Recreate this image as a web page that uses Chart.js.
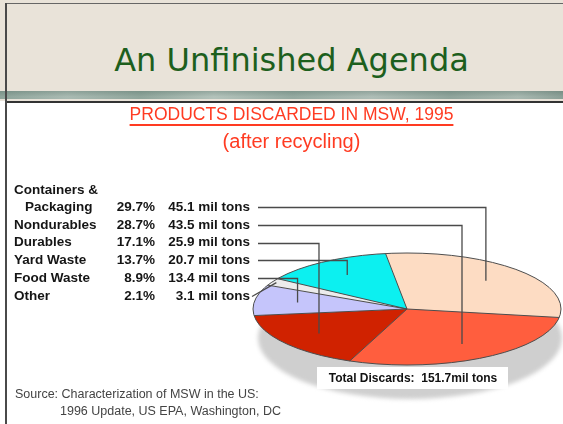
<!DOCTYPE html>
<html><head><meta charset="utf-8">
<script src="https://cdn.jsdelivr.net/npm/chart.js@4/dist/chart.umd.min.js"></script>
<style>
html,body{margin:0;padding:0;}
body{width:563px;height:424px;position:relative;overflow:hidden;background:#fff;font-family:"Liberation Sans",Arial,sans-serif;}
#head{position:absolute;left:0;top:0;width:563px;height:101px;background:#e9e3d9;}
#band{position:absolute;left:0;top:91px;width:563px;height:8px;
 background:linear-gradient(to bottom, rgba(60,90,80,0.25), rgba(255,255,255,0) 70%),
 linear-gradient(to right,#8ea49a,#a9bab2 12%,#8fa59b 25%,#b3c2ba 38%,#94a9a0 52%,#aebdb6 66%,#8fa49b 80%,#a8b8b0 92%,#8a9f96);}
#topline{position:absolute;left:5px;top:3px;width:558px;height:1px;background:#666;}
#leftline{position:absolute;left:5px;top:3px;width:2px;height:421px;background:#4a4a4a;}
#sepline{position:absolute;left:5px;top:101px;width:558px;height:2px;background:#333;}
#slideTitle{position:absolute;left:20px;width:543px;top:40px;text-align:center;font-family:"DejaVu Sans",Verdana,sans-serif;font-size:32px;color:#1d5f1d;line-height:40px;}
#chartBox{position:absolute;left:0;top:0;width:563px;height:424px;}
#source{position:absolute;left:15px;top:386px;font-family:"Liberation Sans",Arial,sans-serif;font-size:12.5px;color:#444;line-height:17px;white-space:nowrap;}
#source .l2{padding-left:45px;}
</style></head>
<body>
<div id="head"></div>
<div id="band"></div>
<div id="topline"></div>
<div id="sepline"></div>
<div id="leftline"></div>
<div id="slideTitle">An Unfinished Agenda</div>
<div id="chartBox"><canvas id="c" width="563" height="424"></canvas></div>
<div id="source"><div>Source: Characterization of MSW in the US:</div><div class="l2">1996 Update, US EPA, Washington, DC</div></div>
<script>
// ---- data (pie order, clockwise from top) ----
const categories = [["Containers &","Packaging"], "Nondurables", "Durables", "Food Waste", "Other", "Yard Waste"];
const percents   = [29.7, 28.7, 17.1, 8.9, 2.1, 13.7];
const milTons    = [45.1, 43.5, 25.9, 13.4, 3.1, 20.7];
const listOrder  = [0, 1, 2, 5, 3, 4];   // order of rows in the label table
const sliceColors = ["#fddcc3", "#ff5e3e", "#d02200", "#c5c5fb", "#ececec", "#0cf0f0"];
const chartTitle = "PRODUCTS DISCARDED IN MSW, 1995";
const chartSubtitle = "(after recycling)";

// ---- layout ----
const PIE = {cx:407, cy:309, rx:154, ry:56};
const ROW0 = 207, ROWSTEP = 17.8;
const LABEL_FONT = "bold 13.5px 'Liberation Sans', Arial, sans-serif";
const TITLE_SIZE = 17.5;

function ellPt(angle, f){
  return [PIE.cx + PIE.rx*f*Math.cos(angle), PIE.cy + PIE.ry*f*Math.sin(angle)];
}

const pie3d = {
  id:'pie3d',
  beforeDatasetsDraw(chart){
    const ctx = chart.ctx;
    const arc = chart.getDatasetMeta(0).data[0];
    const p = arc.getProps(['x','y','outerRadius'], true);
    // shadow
    ctx.save();
    ctx.filter = 'blur(2px)';
    ctx.fillStyle = '#cfcfcf';
    ctx.beginPath();
    ctx.ellipse(PIE.cx+3, PIE.cy+29, PIE.rx-2, PIE.ry+5, 0, 0, Math.PI*2);
    ctx.fill();
    ctx.restore();
    ctx.save();
    ctx.translate(PIE.cx, PIE.cy);
    ctx.scale(PIE.rx/p.outerRadius, PIE.ry/p.outerRadius);
    ctx.translate(-p.x, -p.y);
  },
  afterDatasetsDraw(chart){
    const ctx = chart.ctx;
    ctx.restore();
    const meta = chart.getDatasetMeta(0);
    ctx.save();
    ctx.strokeStyle = '#4d4d4d';
    ctx.lineWidth = 1;
    meta.data.forEach(a => {
      const e = ellPt(a.startAngle, 1);
      ctx.beginPath(); ctx.moveTo(PIE.cx, PIE.cy); ctx.lineTo(e[0], e[1]); ctx.stroke();
    });
    ctx.beginPath(); ctx.ellipse(PIE.cx, PIE.cy, PIE.rx, PIE.ry, 0, 0, Math.PI*2); ctx.stroke();
    ctx.restore();
  },
  afterDraw(chart){
    const ctx = chart.ctx;
    const meta = chart.getDatasetMeta(0);
    // title underline
    const tb = chart.titleBlock;
    ctx.save();
    ctx.font = TITLE_SIZE + "px 'Liberation Sans', Arial, sans-serif";
    const tw = ctx.measureText(chartTitle).width;
    const tcx = tb.left + tb.width/2;
    ctx.fillStyle = '#ff3b22';
    ctx.fillRect(tcx - tw/2, tb.top + tb.height - 5, tw, 2);
    ctx.restore();

    // label table + leaders
    ctx.save();
    ctx.font = LABEL_FONT;
    ctx.fillStyle = '#151515';
    ctx.textBaseline = 'middle';
    listOrder.forEach((idx, row) => {
      const y = ROW0 + row*ROWSTEP;
      const cat = categories[idx];
      ctx.textAlign = 'left';
      if (Array.isArray(cat)) {
        ctx.fillText(cat[0], 14, y - ROWSTEP*0.95);
        ctx.fillText(cat[1], 25, y);
      } else {
        ctx.fillText(cat, 14, y);
      }
      ctx.textAlign = 'right';
      ctx.fillText(percents[idx].toFixed(1) + '%', 155, y);
      ctx.fillText(milTons[idx].toFixed(1) + ' mil tons', 250, y);
    });
    ctx.restore();

    ctx.save();
    ctx.strokeStyle = '#4a4a4a';
    ctx.lineWidth = 1.3;
    listOrder.forEach((idx, row) => {
      const y = Math.round(ROW0 + row*ROWSTEP) + 0.5;
      const a = meta.data[idx];
      const mid = (a.startAngle + a.endAngle)/2;
      const small = percents[idx] < 5;
      const [ax, ay] = ellPt(mid, small ? 0.97 : 0.72);
      ctx.beginPath();
      if (small) {
        ctx.moveTo(252, y); ctx.lineTo(ax, ay);
      } else {
        ctx.moveTo(258, y); ctx.lineTo(ax, y); ctx.lineTo(ax, ay);
      }
      ctx.stroke();
    });
    ctx.restore();

    // total box
    const total = milTons.reduce((s,v)=>s+v,0);
    ctx.save();
    ctx.fillStyle = '#ffffff';
    ctx.fillRect(317, 367, 191, 22);
    ctx.font = "bold 12px 'Liberation Sans', Arial, sans-serif";
    ctx.fillStyle = '#111';
    ctx.textAlign = 'center';
    ctx.textBaseline = 'middle';
    ctx.fillText('Total Discards:  ' + total.toFixed(1) + 'mil tons', 413, 378.5);
    ctx.restore();
  }
};

new Chart(document.getElementById('c'), {
  type: 'pie',
  data: {
    labels: categories.map(c => Array.isArray(c) ? c.join(' ') : c),
    datasets: [{ data: percents, backgroundColor: sliceColors, borderWidth: 0, clip: false }]
  },
  options: {
    responsive: false,
    animation: false,
    events: [],
    rotation: -8,
    layout: { padding: { top: 104, left: 20, right: 0, bottom: 0 } },
    plugins: {
      legend: { display: false },
      tooltip: { enabled: false },
      title: { display: true, text: chartTitle, color: '#ff3b22',
               font: { family: "'Liberation Sans', Arial, sans-serif", size: TITLE_SIZE, weight: 'normal' },
               padding: { top: 1, bottom: 3 } },
      subtitle: { display: true, text: chartSubtitle, color: '#ff3b22',
               font: { family: "'Liberation Sans', Arial, sans-serif", size: 20, weight: 'normal' },
               padding: { top: 1, bottom: 4 } }
    }
  },
  plugins: [pie3d]
});
</script>
</body></html>
